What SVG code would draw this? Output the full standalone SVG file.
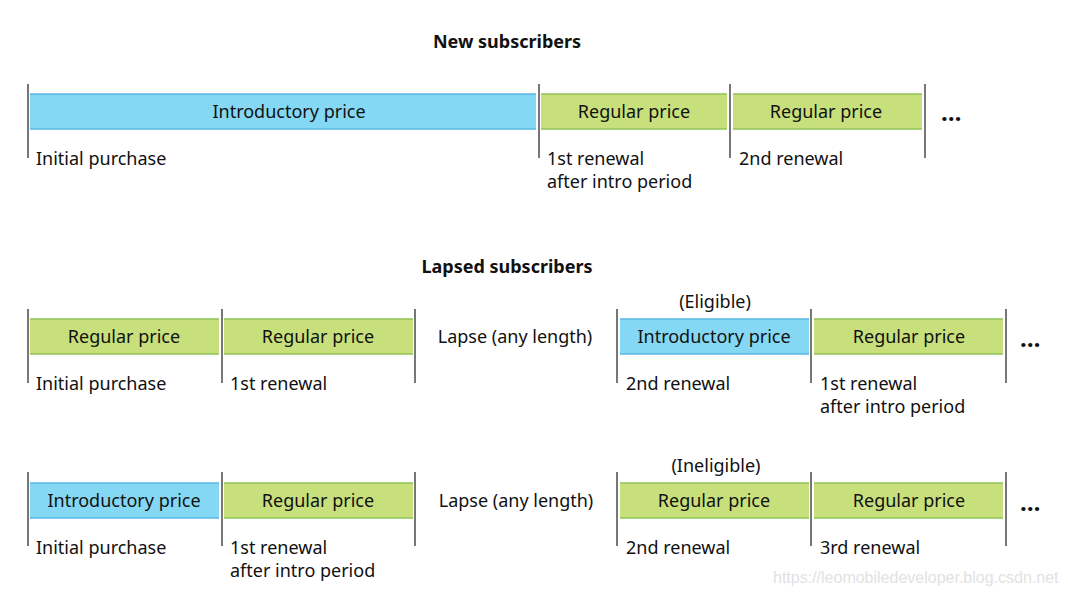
<svg xmlns="http://www.w3.org/2000/svg" width="1068" height="596" viewBox="0 0 1068 596">
<style>
text{font-family:"Noto Sans","Liberation Sans",sans-serif;font-size:18px;fill:#111}
.t{font-weight:bold;font-size:18px;text-anchor:middle}
.c{text-anchor:middle}
.blue{fill:#84d8f4}
.green{fill:#c8e07c}
.bb{stroke:#5ab7e6;stroke-width:1.5}
.gb{stroke:#8fc454;stroke-width:1.5}
.tick{stroke:#555;stroke-width:1.6}
.dots{font-size:24px;font-weight:bold}
.wm{font-family:"Liberation Sans",sans-serif;font-size:16px;fill:#e2e2e2}
</style>
<rect width="1068" height="596" fill="#fff"/>
<g id="titles">
<text class="t" x="507" y="48">New subscribers</text>
<text class="t" x="507" y="273">Lapsed subscribers</text>
</g>
<g id="ticks">
<line class="tick" x1="28" y1="84" x2="28" y2="158"/>
<line class="tick" x1="539" y1="84" x2="539" y2="158"/>
<line class="tick" x1="730" y1="84" x2="730" y2="158"/>
<line class="tick" x1="925" y1="84" x2="925" y2="158"/>
<line class="tick" x1="28" y1="309" x2="28" y2="383"/>
<line class="tick" x1="222" y1="309" x2="222" y2="383"/>
<line class="tick" x1="415" y1="309" x2="415" y2="383"/>
<line class="tick" x1="617" y1="309" x2="617" y2="383"/>
<line class="tick" x1="811" y1="309" x2="811" y2="383"/>
<line class="tick" x1="1006" y1="309" x2="1006" y2="383"/>
<line class="tick" x1="28" y1="472" x2="28" y2="546"/>
<line class="tick" x1="222" y1="472" x2="222" y2="546"/>
<line class="tick" x1="415" y1="472" x2="415" y2="546"/>
<line class="tick" x1="617" y1="472" x2="617" y2="546"/>
<line class="tick" x1="811" y1="472" x2="811" y2="546"/>
<line class="tick" x1="1006" y1="472" x2="1006" y2="546"/>
</g>
<g id="row1-intro">
<rect class="blue" x="30" y="94" width="506" height="35"/>
<line class="bb" x1="30" y1="94" x2="536" y2="94"/><line class="bb" x1="30" y1="129" x2="536" y2="129"/>
<text class="c" x="289" y="118">Introductory price</text>
<text x="36" y="165">Initial purchase</text>
</g>
<g id="row1-reg1">
<rect class="green" x="541" y="94" width="186" height="35"/>
<line class="gb" x1="541" y1="94" x2="727" y2="94"/><line class="gb" x1="541" y1="129" x2="727" y2="129"/>
<text class="c" x="634" y="118">Regular price</text>
<text x="547" y="165">1st renewal</text>
<text x="547" y="188">after intro period</text>
</g>
<g id="row1-reg2">
<rect class="green" x="733" y="94" width="189" height="35"/>
<line class="gb" x1="733" y1="94" x2="922" y2="94"/><line class="gb" x1="733" y1="129" x2="922" y2="129"/>
<text class="c" x="826" y="118">Regular price</text>
<text x="739" y="165">2nd renewal</text>
</g>
<text id="row1-more" class="dots" x="941" y="121">…</text>
<g id="row2-reg1">
<rect class="green" x="30" y="319" width="189" height="35"/>
<line class="gb" x1="30" y1="319" x2="219" y2="319"/><line class="gb" x1="30" y1="354" x2="219" y2="354"/>
<text class="c" x="124" y="343">Regular price</text>
<text x="36" y="390">Initial purchase</text>
</g>
<g id="row2-reg2">
<rect class="green" x="224" y="319" width="189" height="35"/>
<line class="gb" x1="224" y1="319" x2="413" y2="319"/><line class="gb" x1="224" y1="354" x2="413" y2="354"/>
<text class="c" x="318" y="343">Regular price</text>
<text x="230" y="390">1st renewal</text>
</g>
<text id="row2-lapse" class="c" x="515" y="343">Lapse (any length)</text>
<g id="row2-intro">
<text class="c" x="715" y="308">(Eligible)</text>
<rect class="blue" x="620" y="319" width="189" height="35"/>
<line class="bb" x1="620" y1="319" x2="809" y2="319"/><line class="bb" x1="620" y1="354" x2="809" y2="354"/>
<text class="c" x="714" y="343">Introductory price</text>
<text x="626" y="390">2nd renewal</text>
</g>
<g id="row2-reg3">
<rect class="green" x="814" y="319" width="189" height="35"/>
<line class="gb" x1="814" y1="319" x2="1003" y2="319"/><line class="gb" x1="814" y1="354" x2="1003" y2="354"/>
<text class="c" x="909" y="343">Regular price</text>
<text x="820" y="390">1st renewal</text>
<text x="820" y="413">after intro period</text>
</g>
<text id="row2-more" class="dots" x="1020" y="347">…</text>
<g id="row3-intro">
<rect class="blue" x="30" y="483" width="189" height="35"/>
<line class="bb" x1="30" y1="483" x2="219" y2="483"/><line class="bb" x1="30" y1="518" x2="219" y2="518"/>
<text class="c" x="124" y="507">Introductory price</text>
<text x="36" y="554">Initial purchase</text>
</g>
<g id="row3-reg1">
<rect class="green" x="224" y="483" width="189" height="35"/>
<line class="gb" x1="224" y1="483" x2="413" y2="483"/><line class="gb" x1="224" y1="518" x2="413" y2="518"/>
<text class="c" x="318" y="507">Regular price</text>
<text x="230" y="554">1st renewal</text>
<text x="230" y="577">after intro period</text>
</g>
<text id="row3-lapse" class="c" x="516" y="507">Lapse (any length)</text>
<g id="row3-reg2">
<text class="c" x="716" y="472">(Ineligible)</text>
<rect class="green" x="620" y="483" width="189" height="35"/>
<line class="gb" x1="620" y1="483" x2="809" y2="483"/><line class="gb" x1="620" y1="518" x2="809" y2="518"/>
<text class="c" x="714" y="507">Regular price</text>
<text x="626" y="554">2nd renewal</text>
</g>
<g id="row3-reg3">
<rect class="green" x="814" y="483" width="189" height="35"/>
<line class="gb" x1="814" y1="483" x2="1003" y2="483"/><line class="gb" x1="814" y1="518" x2="1003" y2="518"/>
<text class="c" x="909" y="507">Regular price</text>
<text x="820" y="554">3rd renewal</text>
</g>
<text id="row3-more" class="dots" x="1020" y="511">…</text>
<text class="wm" x="773" y="583">https://leomobiledeveloper.blog.csdn.net</text>
</svg>
